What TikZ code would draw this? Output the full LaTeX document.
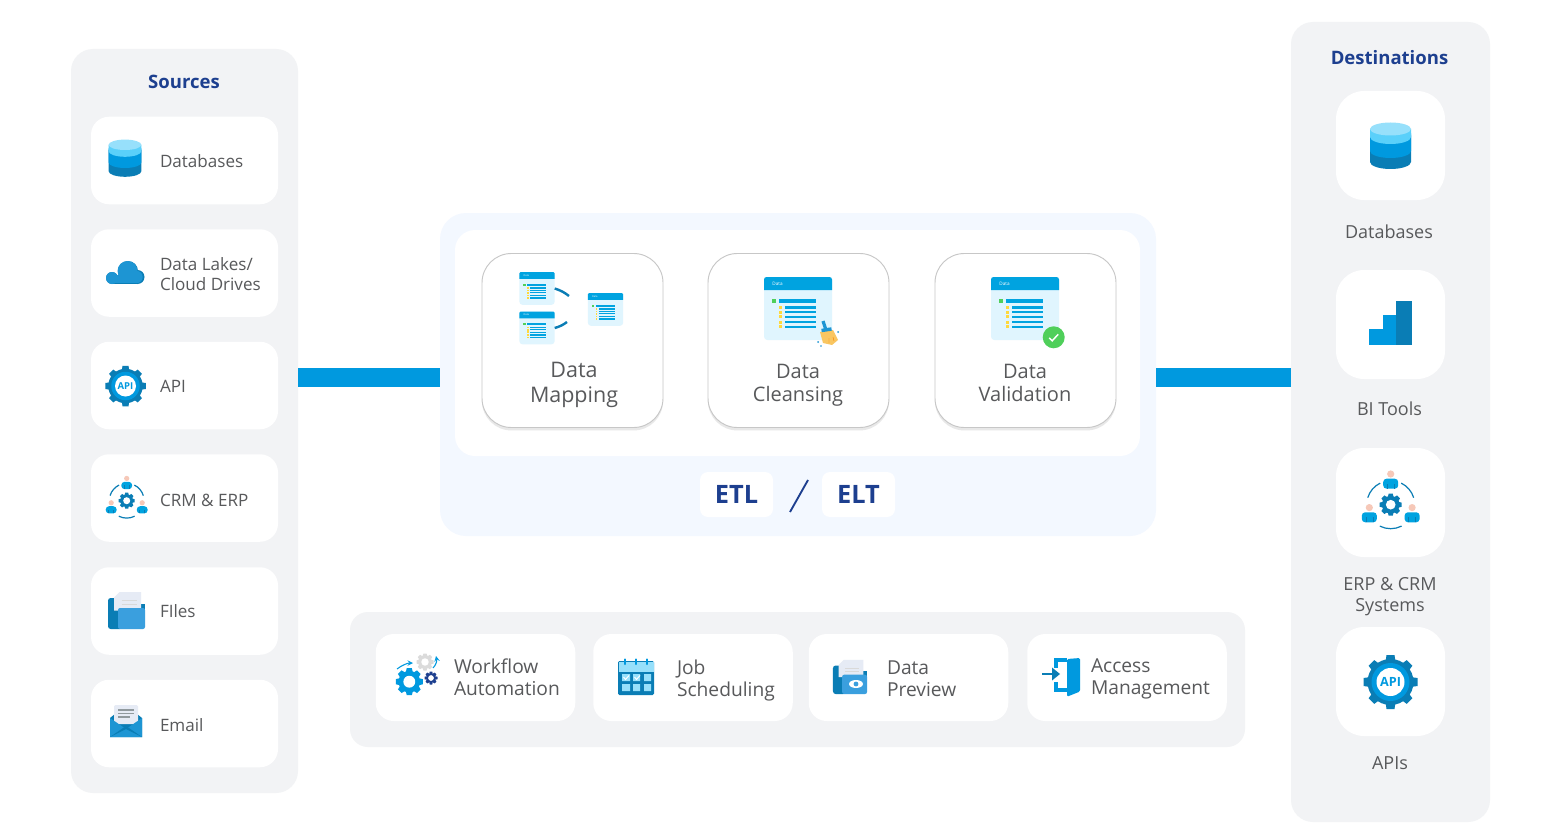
\documentclass[tikz,border=0pt]{standalone}
\usepackage{fontspec}
\setmainfont{Open Sans}
\usetikzlibrary{shadows}
\definecolor{panelgray}{HTML}{F2F3F5}
\definecolor{etltint}{HTML}{F3F8FF}
\definecolor{flowblue}{HTML}{0099DF}
\definecolor{navy}{HTML}{1D3F8F}
\definecolor{labelgray}{HTML}{58595B}
\definecolor{deepblue}{HTML}{0A7DB5}
\definecolor{skyblue}{HTML}{5AD0FA}
\definecolor{paleblue}{HTML}{97E0FB}
\definecolor{cloudblue}{HTML}{1D95D3}
\definecolor{folderblue}{HTML}{3A9FDE}
\definecolor{winbody}{HTML}{E0F5FE}
\definecolor{winhead}{HTML}{00A3E0}
\definecolor{okgreen}{HTML}{4FCF5A}
\definecolor{marker}{HTML}{FFD83D}
\definecolor{bristle}{HTML}{F9C661}
\definecolor{paper}{HTML}{E6EBF5}
\definecolor{skin}{HTML}{F6C8B8}
\newcommand{\px}{0.75pt}
\tikzset{
  dbicon/.pic={
    \fill[deepblue] (-20.5,10) -- (-20.5,-16.5) arc (180:360:20.5 and 7) -- (20.5,10) -- cycle;
    \fill[flowblue] (-20.5,12) -- (-20.5,-5.5) arc (180:360:20.5 and 7) -- (20.5,12) -- cycle;
    \fill[skyblue] (-20.5,16.5) -- (-20.5,8.5) arc (180:360:20.5 and 7) -- (20.5,16.5) -- cycle;
    \fill[paleblue] (0,16.5) ellipse (20.5 and 6.5);
  },
  cloudicon/.pic={
    \fill[deepblue] (-13,-5.5) circle (6) (3,1.5) circle (10) (12.5,-4.5) circle (7);
    \fill[deepblue] (-13,-11.5) rectangle (12.5,-4);
    \fill[cloudblue] (-13,-5.5) circle (6) (2.5,1.5) circle (10) (11.5,-4.5) circle (6.2);
    \fill[cloudblue] (-13,-10.7) rectangle (11.5,-2);
  },
  apicog/.pic={
    \foreach \a in {0,45,...,315} \fill[deepblue,rotate=\a] (-5,20) -- (-4,27) -- (4,27) -- (5,20) -- cycle;
    \fill[deepblue] (0,0) circle (23);
    \fill[flowblue] (0,0) circle (19);
    \fill[white] (0,0) circle (14);
    \node[transform shape,text=flowblue,font=\fontsize{9.5}{10}\selectfont\bfseries] (-txt) at (0,0) {API};
  },
  cog/.pic={
    \foreach \a in {0,45,...,315} \path[pic actions,rotate=\a] (-2.6,7) -- (-1.9,10) -- (1.9,10) -- (2.6,7) -- cycle;
    \path[pic actions] (0,0) circle (8);
    \fill[white] (0,0) circle (4.4);
  },
  person/.pic={
    \fill[skin] (0,9.7) circle (3.6);
    \fill[winhead,rounded corners=2.5] (-7.5,-5) rectangle (7.5,5);
    \draw[deepblue,line width=.4pt] (-3.5,-5) -- (-3.5,0) (3.5,-5) -- (3.5,0);
  },
  crmicon/.pic={
    \pic[transform shape] at (0,21) {person};
    \pic[transform shape] at (-21.4,-12.6) {person};
    \pic[transform shape] at (21.4,-12.6) {person};
    \pic[transform shape,fill=deepblue,scale=1.1] at (0,0) {cog};
    \draw[deepblue,line width=.9pt] (163:24) arc (163:116:24) (64:24) arc (64:17:24) (243:24) arc (243:297:24);
  },
  datawin/.pic={
    \fill[winbody,rounded corners=2.5] (-34,-31.5) rectangle (34,31.5);
    \fill[winhead] (-34,18.5) -- (-34,29) arc (180:90:2.5) -- (31.5,31.5) arc (90:0:2.5) -- (34,18.5) -- cycle;
    \node[transform shape,text=white,font=\fontsize{3.5}{4}\selectfont] (-head) at (-20.5,25) {Data};
    \fill[okgreen] (-26,5.5) rectangle (-22,9.5);
    \fill[winhead] (-19,5.5) rectangle (18,9.5);
    \foreach \r in {1.2,-3.5,-8.2,-13.5,-18.2} {
      \fill[marker] (-19,\r-1.5) rectangle (-16,\r+1.5);
      \fill[winhead] (-13,\r-1.2) rectangle (18,\r+1.2);
    }
    \coordinate (-e) at (34,0);
  },
  brushicon/.pic={
    \fill[bristle] (-9,1) -- (4,3) -- (9,-7) -- (3,-12) -- (-6,-10) -- cycle;
    \draw[orange,line width=.3pt] (0,-5) -- (0,-10) (4,-4) -- (5,-8);
    \draw[cloudblue,line width=2.4pt] (-6,12) -- (-3,3);
    \draw[cloudblue,line width=2.6pt] (-7.5,2.5) -- (2.5,4);
    \fill[cloudblue] (-11,-9) circle (1) (-8,-13) circle (.8) (9,1) circle (1);
  },
  checkbadge/.pic={
    \fill[okgreen] (0,0) circle (11);
    \draw[white,line width=1.1pt] (-4.5,-.5) -- (-1.5,-3.5) -- (4.5,3);
  },
  foldericon/.pic={
    \fill[deepblue,rounded corners=2] (-18.5,-18.5) rectangle (-4,12.5);
    \fill[deepblue] (12,-2) rectangle (18.5,7);
    \fill[paper] (-12.5,0) -- (-12.5,13) -- (-7,18.5) -- (14.5,18.5) -- (14.5,0) -- cycle;
    \draw[black!15,line width=.4pt] (-5,10) -- (10,10) (-5,6.5) -- (10,6.5);
    \fill[folderblue,rounded corners=1.5] (-8.5,-18.5) -- (-8.5,2.5) -- (18.5,2.5) -- (18.5,-18.5) -- cycle;
  },
  mailicon/.pic={
    \fill[deepblue] (-16,3) -- (0,16) -- (16,3) -- (16,-16) -- (-16,-16) -- cycle;
    \fill[paper,rounded corners=1] (-12,-3) rectangle (12,16);
    \draw[black!30!winbody!60!gray,line width=.9pt] (-8,11) -- (8,11) (-8,7.5) -- (8,7.5) (-8,4) -- (4,4);
    \fill[cloudblue] (-16,3) -- (0,-8) -- (16,3) -- (16,-16) -- (-16,-16) -- cycle;
    \fill[deepblue] (-16,-16) -- (0,-5) -- (16,-16) -- (0,-8) -- cycle;
  }
}
\begin{document}
\begin{tikzpicture}[x=\px,y=\px,
  every node/.style={inner sep=0pt,outer sep=0pt},
  panel/.style={fill=panelgray,rounded corners=16.5pt},
  slot/.style={fill=white,rounded corners=13.5pt,minimum width=187*\px,minimum height=87.5*\px},
  wide slot/.style={fill=white,rounded corners=13.5pt,minimum width=199.5*\px,minimum height=87*\px},
  square/.style={fill=white,rounded corners=21pt,minimum width=109*\px,minimum height=109*\px},
  tile/.style={fill=white,draw=black!22,line width=.7pt,rounded corners=22pt,minimum width=181*\px,minimum height=174*\px,
    drop shadow={shadow xshift=0pt,shadow yshift=-2.2pt,fill=black!9,opacity=1}},
  tag/.style={fill=white,rounded corners=6pt,minimum width=73*\px,minimum height=45*\px,text=navy,font=\fontsize{19}{22}\selectfont\bfseries},
  head/.style={text=navy,font=\fontsize{13.9}{16}\selectfont\bfseries},
  srclabel/.style={anchor=west,align=left,text=labelgray,font=\fontsize{12.8}{15}\selectfont},
  dstlabel/.style={align=center,text=labelgray,font=\fontsize{13.5}{15.75}\selectfont},
  toollabel/.style={anchor=west,align=left,text=labelgray,font=\fontsize{14.4}{16.5}\selectfont},
  tilelabel/.style={align=center,text=labelgray,font=\fontsize{15}{17.25}\selectfont},
  flowbar/.style={flowblue,line width=19*\px},
  linkstroke/.style={deepblue,line width=1.8pt}]
\useasboundingbox (0,0) rectangle (1559,-838);
\fill[white] (0,0) rectangle (1559,-838);
\coordinate (flowrow) at (800,-377);
\node[panel,minimum width=227*\px,minimum height=744*\px] (sources) at (184.5,-421) {};
\node[panel,minimum width=199*\px,minimum height=800*\px] (destinations) at (1390.5,-422) {};
\node[fill=etltint,rounded corners=19.5pt,minimum width=716*\px,minimum height=323*\px] (etlpanel) at (798,-374.5) {};
\node[fill=white,rounded corners=15pt,minimum width=685*\px,minimum height=226*\px] (stages) at (797.5,-343) {};
\node[panel,rounded corners=13.5pt,minimum width=895*\px,minimum height=135*\px] (tools) at (797.5,-679.5) {};
\draw[flowbar] (sources.east |- flowrow) -- (etlpanel.west |- flowrow);
\draw[flowbar] (etlpanel.east |- flowrow) -- (destinations.west |- flowrow);
\node[head] (sourceshead) at (184,-82) {Sources};
\node[slot] (srcdb) at (184.5,-160.5) {};
\pic[scale=.8] (srcdbicon) at (125,-158) {dbicon};
\node[srclabel] (srcdblabel) at (160,-161) {Databases};
\node[slot] (srclake) at (184.5,-273) {};
\pic (srclakeicon) at (125,-272.5) {cloudicon};
\node[srclabel] (srclakelabel) at (160,-274) {Data Lakes/\\Cloud Drives};
\node[slot] (srcapi) at (184.5,-385.5) {};
\pic[scale=.75] (srcapiicon) at (125.5,-386) {apicog};
\node[srclabel] (srcapilabel) at (160,-386.5) {API};
\node[slot] (srccrm) at (184.5,-498) {};
\pic[scale=.725] (srccrmicon) at (126.7,-500.7) {crmicon};
\node[srclabel] (srccrmlabel) at (160,-500.5) {CRM \& ERP};
\node[slot] (srcfile) at (184.5,-611) {};
\pic (srcfileicon) at (126.5,-610.5) {foldericon};
\node[srclabel] (srcfilelabel) at (160,-611.5) {FIles};
\node[slot] (srcmail) at (184.5,-723.5) {};
\pic (srcmailicon) at (126,-721) {mailicon};
\node[srclabel] (srcmaillabel) at (160,-725) {Email};
\node[tile] (mapping) at (572.5,-340.5) {};
\pic[scale=.52] (mapa) at (537,-288.5) {datawin};
\pic[scale=.52] (mapb) at (537,-328) {datawin};
\pic[scale=.52] (maphub) at (605.5,-309.5) {datawin};
\coordinate (mapaend) at (569,-296);
\coordinate (mapbend) at (567,-322);
\draw[linkstroke] (mapa-e) to[bend left=10] (mapaend);
\draw[linkstroke] (mapb-e) to[bend right=10] (mapbend);
\node[tilelabel,font=\fontsize{16.1}{18.75}\selectfont] (mappinglabel) at (574,-385) {Data\\Mapping};
\node[tile] (cleansing) at (798.5,-340.5) {};
\pic (cleanwin) at (798,-308.5) {datawin};
\pic (cleanbrush) at (829,-333) {brushicon};
\node[tilelabel] (cleansinglabel) at (798,-385) {Data\\Cleansing};
\node[tile] (validation) at (1025.5,-340.5) {};
\pic (validwin) at (1025,-308.5) {datawin};
\pic (validcheck) at (1053.7,-337.3) {checkbadge};
\node[tilelabel] (validationlabel) at (1025,-383) {Data\\Validation};
\node[tag] (etl) at (736.5,-494.5) {ETL};
\node[tag] (elt) at (858.5,-494.5) {ELT};
\coordinate (slashlow) at (790,-512);
\coordinate (slashtop) at (808,-480);
\draw[navy,line width=1.4pt] (slashlow) -- (slashtop);
\node[wide slot] (flowtool) at (475.5,-677.5) {};
\pic[fill=flowblue,scale=1.35] at (409.3,-681.7) {cog};
\pic[fill=navy,scale=.65] at (431,-678) {cog};
\pic[fill=black!14,scale=.85] at (425,-662) {cog};
\draw[flowblue,line width=.8pt,-stealth] (397,-669) .. controls (402,-665) and (408,-663) .. (413,-663);
\draw[flowblue,line width=.8pt,-stealth] (433,-668) .. controls (436,-665) and (437,-661) .. (436,-656);
\node[toollabel] (flowtoollabel) at (454,-677.5) {Workflow\\Automation};
\node[wide slot] (jobtool) at (693,-677.5) {};
\fill[deepblue,rounded corners=1] (618,-661) rectangle (654,-695);
\fill[paleblue] (618.5,-662) rectangle (653.5,-672);
\draw[flowblue,line width=1.8pt,line cap=round] (625,-659.5) -- (625,-664) (636,-659.5) -- (636,-664) (647,-659.5) -- (647,-664);
\fill[paleblue] (622,-674) rectangle (630,-681) (633,-674) rectangle (640,-681) (644,-674) rectangle (651,-681);
\fill[paleblue] (622,-684) rectangle (630,-691) (633,-684) rectangle (640,-691) (644,-684) rectangle (651,-691);
\draw[white,line width=.7pt] (623.5,-677) -- (625.5,-679.5) -- (629,-675.5) (634.5,-677) -- (636.5,-679.5) -- (640,-675.5);
\node[toollabel] (jobtoollabel) at (677,-680.5) {Job\\Scheduling};
\node[wide slot] (previewtool) at (908.5,-677.5) {};
\pic[scale=.92] (previewicon) at (850,-677) {foldericon};
\fill[white] (856,-684) ellipse (7 and 4);
\fill[folderblue] (856,-684) circle (2.4);
\node[toollabel] (previewtoollabel) at (887,-678.5) {Data\\Preview};
\node[wide slot] (accesstool) at (1127,-677.5) {};
\draw[flowblue,line width=2.4pt] (1056,-668) -- (1056,-660) -- (1067,-660);
\draw[flowblue,line width=2.4pt] (1056,-682) -- (1056,-690) -- (1067,-690);
\fill[flowblue,rounded corners=1] (1067,-659) -- (1080,-658) -- (1080,-691.5) -- (1067,-696.7) -- cycle;
\draw[deepblue,line width=2pt] (1042,-674) -- (1053,-674);
\fill[deepblue] (1052,-667.5) -- (1060,-674) -- (1052,-680.5) -- cycle;
\node[toollabel] (accesstoollabel) at (1091,-678.5) {Access\\Management};
\node[head] (destinationshead) at (1389.5,-58) {Destinations};
\node[square] (dstdb) at (1390.5,-145.5) {};
\pic (dstdbicon) at (1390.5,-145.5) {dbicon};
\node[dstlabel] (dstdblabel) at (1389,-232) {Databases};
\node[square] (dstbi) at (1390.5,-324.5) {};
\fill[flowblue] (1369,-329) rectangle (1383,-345);
\fill[flowblue] (1383,-315) rectangle (1396,-345);
\fill[deepblue] (1396,-301) rectangle (1412,-345);
\node[dstlabel] (dstbilabel) at (1389.5,-408.5) {BI Tools};
\node[square] (dstcrm) at (1390.5,-502.5) {};
\pic (dstcrmicon) at (1390.7,-504.7) {crmicon};
\node[dstlabel] (dstcrmlabel) at (1390,-597) {ERP \& CRM\\Systems};
\node[square] (dstapi) at (1390.5,-681.5) {};
\pic (dstapiicon) at (1390.5,-682) {apicog};
\node[dstlabel] (dstapilabel) at (1390,-763.5) {APIs};
\end{tikzpicture}
\end{document}
